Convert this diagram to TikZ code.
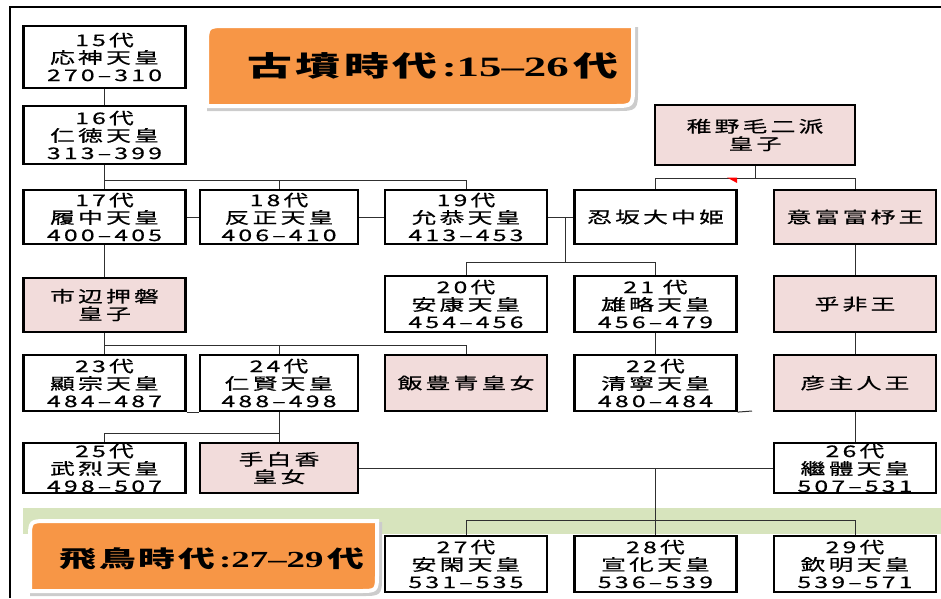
\documentclass[tikz,border=0pt]{standalone}
\usepackage{fontspec}
\setmainfont{Noto Sans CJK JP}[FakeStretch=1.55,LetterSpace=20,FakeBold=0.7]
\newfontfamily\ttlcjk{Noto Sans CJK JP}[FakeStretch=1.6,LetterSpace=12]
\newfontfamily\ttllat{Liberation Serif}[FakeStretch=1.6]
\definecolor{kpink}{HTML}{F2DCDB}
\definecolor{korange}{HTML}{F79646}
\definecolor{kgreen}{HTML}{D7E4BD}
\definecolor{kline}{HTML}{303030}
\begin{document}
\begin{tikzpicture}[x=1pt,y=-1pt,
  kb/.style={draw=black,line width=2.2pt,fill=white,inner sep=0pt,align=center,
    minimum width=162pt,font=\fontsize{16}{17.5}\selectfont},
  pk/.style={kb,fill=kpink},
  cn/.style={draw=kline,line width=1pt},
  ttl/.style={fill=korange,draw=white,line width=4pt},
  shd/.style={fill=black!20,draw=black!20,line width=4pt}]
\useasboundingbox (0,0) rectangle (941,598);
% outer frame
\draw[line width=2pt] (10,598) -- (10,7) -- (941,7);
% green band
\fill[kgreen] (23,508) rectangle (941,534);
% title 1
\path[shd] (209,29) -- (209,46) .. controls (209,29) .. (229,29) -- (636,29) -- (636,89) .. controls (636,109) .. (616,109) -- (209,109) -- cycle;
\path[ttl] (207,106) -- (207,46) .. controls (207,26) .. (227,26) -- (633,26) -- (633,86) .. controls (633,106) .. (613,106) -- cycle;
\node (t1) at (433,66) {\fontsize{28}{30}\selectfont\ttlcjk\bfseries 古墳時代{\ttllat\bfseries\,:15–26\,}代};
% title 2
\path[shd] (32,524) -- (32,542) .. controls (32,524) .. (50,524) -- (380,524) -- (380,576) .. controls (380,594) .. (362,594) -- (32,594) -- cycle;
\path[ttl] (30,591) -- (30,539) .. controls (30,521) .. (48,521) -- (377,521) -- (377,573) .. controls (377,591) .. (359,591) -- cycle;
\node (t2) at (212,559) {\fontsize{23}{26}\selectfont\ttlcjk\bfseries 飛鳥時代{\ttllat\,:27–29\,}代};
% boxes
\node[kb,minimum height=62pt] (n15) at (104.5,57) {15代\\応神天皇\\270–310};
\node[kb,minimum height=58pt] (n16) at (104.5,135) {16代\\仁徳天皇\\313–399};
\node[pk,minimum height=60pt,minimum width=200pt] (waka) at (755,135) {稚野毛二派\\皇子};
\node[kb,minimum height=54pt] (n17) at (104.5,217) {17代\\履中天皇\\400–405};
\node[kb,minimum height=54pt,minimum width=158pt] (n18) at (279,217) {18代\\反正天皇\\406–410};
\node[kb,minimum height=54pt] (n19) at (466,217) {19代\\允恭天皇\\413–453};
\node[kb,minimum height=54pt] (osa) at (655.5,217) {忍坂大中姫};
\node[pk,minimum height=54pt] (ofu) at (855,217) {意富富杼王};
\node[pk,minimum height=54pt] (ichi) at (104.5,305) {市辺押磐\\皇子};
\node[kb,minimum height=56pt] (n20) at (466,304) {20代\\安康天皇\\454–456};
\node[kb,minimum height=56pt] (n21) at (655.5,304) {21 代\\雄略天皇\\456–479};
\node[pk,minimum height=56pt] (ohi) at (855,304) {乎非王};
\node[kb,minimum height=56pt] (n23) at (104.5,383) {23代\\顯宗天皇\\484–487};
\node[kb,minimum height=56pt,minimum width=158pt] (n24) at (279,383) {24代\\仁賢天皇\\488–498};
\node[pk,minimum height=56pt] (iito) at (466,383) {飯豊青皇女};
\node[kb,minimum height=56pt] (n22) at (655.5,383) {22代\\清寧天皇\\480–484};
\node[pk,minimum height=56pt] (hiko) at (855,383) {彦主人王};
\node[kb,minimum height=50pt] (n25) at (104.5,468) {25代\\武烈天皇\\498–507};
\node[pk,minimum height=50pt,minimum width=158pt] (tesh) at (279,468) {手白香\\皇女};
\node[kb,minimum height=50pt] (n26) at (855,468) {26代\\繼體天皇\\507–531};
\node[kb,minimum height=56pt] (n27) at (466,564) {27代\\安閑天皇\\531–535};
\node[kb,minimum height=56pt] (n28) at (655.5,564) {28代\\宣化天皇\\536–539};
\node[kb,minimum height=56pt] (n29) at (855,564) {29代\\欽明天皇\\539–571};
% connectors
\coordinate (j16) at (104.5,180);
\coordinate (jw) at (755,178);
\coordinate (jm) at (565,217);
\coordinate (jm2) at (565,262);
\coordinate (ji) at (104.5,345);
\coordinate (s22) at (752,411);
\coordinate (j24) at (279,433);
\coordinate (jt) at (655.5,468);
\coordinate (jt2) at (655.5,520);
\draw[cn] (n15.south) -- (n16.north);
\draw[cn] (n16.south) -- (n17.north);
\draw[cn] (j16) -| (n18.north);
\draw[cn] (j16) -| (n19.north);
\draw[cn] (n17.east) -- (n18.west);
\draw[cn] (n18.east) -- (n19.west);
\draw[cn] (n19.east) -- (osa.west);
\draw[cn] (waka.south) -- (jw);
\draw[cn] (jw) -| (osa.north);
\draw[cn] (jw) -| (ofu.north);
\fill[red] (727,177.5) -- (737,177.5) -- (737,183) -- cycle;
\draw[cn] (jm) -- (jm2);
\draw[cn] (jm2) -| (n20.north);
\draw[cn] (jm2) -| (n21.north);
\draw[cn] (n17.south) -- (ichi.north);
\draw[cn] (ofu.south) -- (ohi.north);
\draw[cn] (ohi.south) -- (hiko.north);
\draw[cn] (hiko.south) -- (n26.north);
\draw[cn] (n21.south) -- (n22.north);
\draw[cn] (ichi.south) -- (n23.north);
\draw[cn] (ji) -| (n24.north);
\draw[cn] (ji) -| (iito.north);
\draw[cn] (n23.south east) -- (n24.south west);
\draw[cn] (n22.south east) -- (s22);
\draw[cn] (n24.south) -- (tesh.north);
\draw[cn] (j24) -| (n25.north);
\draw[cn] (tesh.east) -- (n26.west);
\draw[cn] (jt) -- (n28.north);
\draw[cn] (jt2) -| (n27.north);
\draw[cn] (jt2) -| (n29.north);
\end{tikzpicture}
\end{document}
